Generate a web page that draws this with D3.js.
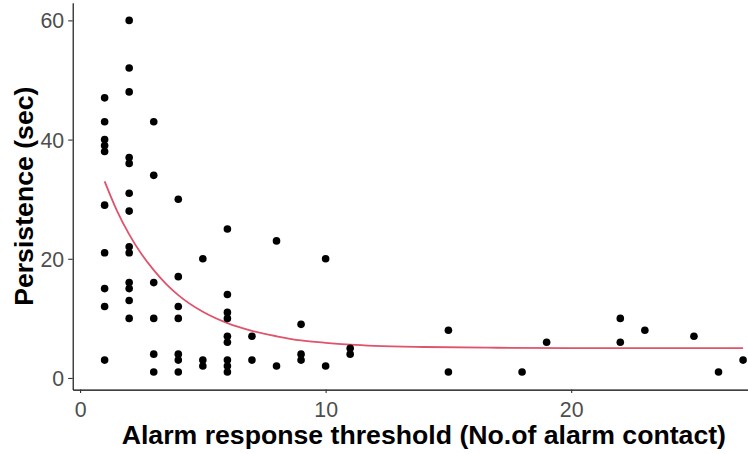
<!DOCTYPE html>
<html>
<head>
<meta charset="utf-8">
<script src="https://cdn.jsdelivr.net/npm/d3@7"></script>
<style>
  html, body { margin: 0; padding: 0; background: #fff; }
  svg { display: block; }
</style>
</head>
<body>
<svg id="chart" width="748" height="454"></svg>
<script>
// Observations: alarm response threshold vs. persistence
const thresholdX = [
  1,1,1,1,1,1,1,1,1,1,
  2,2,2,2,2,2,2,2,2,2,2,2,2,
  3,3,3,3,3,3,
  4,4,4,4,4,4,4,
  5,5,5,
  6,6,6,6,6,6,6,6,6,
  7,7,
  8,8,
  9,9,9,
  10,10,
  11,11,
  15,15,
  18,
  19,
  22,22,
  23,
  25,
  26,
  27
];
const persistenceY = [
  47,43,40,39,38,29,21,15,12,3,
  60,52,48,37,36,31,28,22,21,16,15,13,10,
  43,34,16,10,4,1,
  30,17,12,10,4,3,1,
  20,3,2,
  25,14,11,10,7,6,3,2,1,
  7,3,
  23,2,
  9,4,3,
  20,2,
  5,4,
  8,1,
  1,
  6,
  10,6,
  8,
  7,
  1,
  3
];

// Fitted decay curve
const fitX = [1,1.5,2,2.5,3,3.5,4,5,6,7,8,9,10,11,12,14,17,20,24,27];
const fitY = [33.0,28.1,24.1,20.8,18.1,15.8,13.9,11.1,9.2,7.9,7.0,6.3,5.9,5.6,5.4,5.2,5.07,5.02,5.0,5.0];

const xTicks = [0, 10, 20];
const yTicks = [0, 20, 40, 60];

const svg = d3.select("#chart");
const panel = { left: 72.7, right: 775, top: 2.8, bottom: 389.6 };

const x = d3.scaleLinear().domain([-0.3, 28.3]).range([panel.left, panel.right]);
const y = d3.scaleLinear().domain([-1.95, 62.95]).range([panel.bottom, panel.top]);

const textGrey = "#4D4D4D";

// Axes
const xAxis = svg.append("g")
  .attr("transform", `translate(0,${panel.bottom})`)
  .call(d3.axisBottom(x).tickValues(xTicks).tickSize(3.5).tickPadding(5).tickSizeOuter(0));
const yAxis = svg.append("g")
  .attr("transform", `translate(${panel.left},0)`)
  .call(d3.axisLeft(y).tickValues(yTicks).tickSize(4.5).tickPadding(4).tickSizeOuter(0));

[xAxis, yAxis].forEach(g => {
  g.select(".domain").attr("stroke", "#000").attr("stroke-width", 1.1);
  g.selectAll(".tick line").attr("stroke", "#333").attr("stroke-width", 1.1);
  g.selectAll(".tick text")
    .attr("fill", textGrey)
    .style("font-family", "'Liberation Sans', Arial, sans-serif")
    .style("font-size", "21.3px");
});
xAxis.selectAll(".tick text").attr("dy", "0.71em").attr("y", 12);
yAxis.selectAll(".tick text").attr("dy", "0.35em");

// Fitted curve
const line = d3.line()
  .x((d, i) => x(fitX[i]))
  .y(d => y(d))
  .curve(d3.curveMonotoneX);
svg.append("path")
  .datum(fitY)
  .attr("d", line)
  .attr("fill", "none")
  .attr("stroke", "#DF536B")
  .attr("stroke-width", 1.8);

// Points
svg.append("g").selectAll("circle")
  .data(persistenceY)
  .join("circle")
  .attr("cx", (d, i) => x(thresholdX[i]))
  .attr("cy", d => y(d))
  .attr("r", 3.8)
  .attr("fill", "#000");

// Axis titles
svg.append("text")
  .attr("x", (panel.left + panel.right) / 2)
  .attr("y", 444)
  .attr("text-anchor", "middle")
  .style("font-family", "'Liberation Sans', Arial, sans-serif")
  .style("font-weight", "bold")
  .style("font-size", "26.67px")
  .attr("fill", "#000")
  .text("Alarm response threshold (No.of alarm contact)");

svg.append("text")
  .attr("transform", `translate(33,${(panel.top + panel.bottom) / 2}) rotate(-90)`)
  .attr("text-anchor", "middle")
  .style("font-family", "'Liberation Sans', Arial, sans-serif")
  .style("font-weight", "bold")
  .style("font-size", "26.67px")
  .attr("fill", "#000")
  .text("Persistence (sec)");
</script>
</body>
</html>
